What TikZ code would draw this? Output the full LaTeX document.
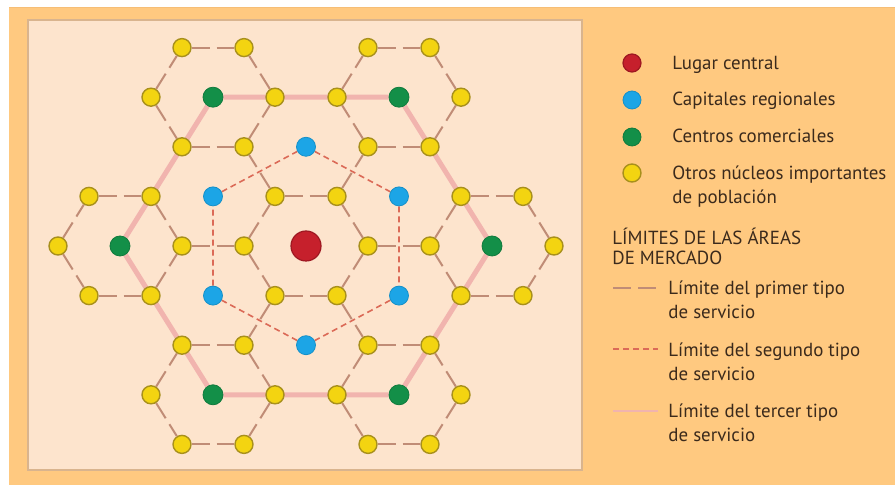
\documentclass[tikz,border=0pt]{standalone}
\usepackage{fontspec}
\setmainfont{PT Sans}
\usepackage{tikz}

\definecolor{orangebg}{HTML}{FFC980}
\definecolor{panelbg}{HTML}{FDE4CD}
\definecolor{panelrim}{HTML}{D9B48E}
\definecolor{townfill}{HTML}{F3D411}
\definecolor{townrim}{HTML}{A8901C}
\definecolor{capfill}{HTML}{1CA5E6}
\definecolor{caprim}{HTML}{1690C8}
\definecolor{shopfill}{HTML}{138F48}
\definecolor{centrefill}{HTML}{C6202C}
\definecolor{centrerim}{HTML}{9E1822}
\definecolor{firstline}{HTML}{C08C76}
\definecolor{secondline}{HTML}{DB6A57}
\definecolor{thirdline}{HTML}{F1B4AE}
\definecolor{legendtext}{HTML}{3B2A1C}

\pgfdeclarelayer{paper}
\pgfdeclarelayer{lines}
\pgfsetlayers{paper,lines,main}

\begin{document}
\begin{tikzpicture}[x=0.5bp,y=-0.5bp,
    town/.style={circle,fill=townfill,draw=townrim,line width=.7bp,minimum size=9bp,inner sep=0pt},
    capital/.style={circle,fill=capfill,draw=caprim,line width=.4bp,minimum size=9.5bp,inner sep=0pt},
    shop/.style={circle,fill=shopfill,draw=shopfill!85!black,line width=.4bp,minimum size=10bp,inner sep=0pt},
    centre/.style={circle,fill=centrefill,draw=centrerim,line width=.6bp,minimum size=15bp,inner sep=0pt},
    firsttype/.style={draw=firstline,line width=1bp,dash pattern=on 9bp off 3.5bp},
    secondtype/.style={draw=secondline,line width=.8bp,dash pattern=on 3bp off 2bp},
    thirdtype/.style={draw=thirdline,line width=2.5bp},
    legtext/.style={anchor=base west,inner sep=0pt,align=left,text=legendtext,
      font=\fontsize{9.5}{12.5}\selectfont}]

             \useasboundingbox (0,0) rectangle (895,485);
             \begin{pgfonlayer}{paper}
               \fill[white] (0,0) rectangle (895,485);
               \fill[orangebg] (9,7) rectangle (895,485);
               \draw[orangebg!85!brown,line width=.8bp] (9,7.5) -- (895,7.5);
               \filldraw[fill=panelbg,draw=panelrim,line width=.8bp] (28,20) rectangle (582,470);
             \end{pgfonlayer}

             % the market places
             \begin{scope}[shift={(306,246)},x=15.5bp,y=24.8bp]
               \node[centre] (lugar) at (0,0) {};
               \foreach \a/\b in {0/2,3/1,3/-1,0/-2,-3/-1,-3/1}
                 \node[capital] (c\a_\b) at (\a,\b) {};
               \foreach \a/\b in {-3/3,3/3,6/0,3/-3,-3/-3,-6/0}
                 \node[shop] (s\a_\b) at (\a,\b) {};
               \foreach \b in {4,2,-2,-4}
                 \foreach \a in {-4,-2,2,4}
                   \node[town] (t\a_\b) at (\a,\b) {};
               \foreach \b in {3,-3}
                 \foreach \a in {-5,-1,1,5}
                   \node[town] (t\a_\b) at (\a,\b) {};
               \foreach \b in {1,-1}
                 \foreach \a in {-7,-5,-1,1,5,7}
                   \node[town] (t\a_\b) at (\a,\b) {};
               \foreach \a in {-8,-4,-2,2,4,8}
                 \node[town] (t\a_0) at (\a,0) {};
             \end{scope}

             \begin{pgfonlayer}{lines}
               % first type: every side of the small hexagons
               \foreach \b in {4,2,0,-2,-4}
                 \draw[firsttype] (t-4_\b) -- (t-2_\b) (t2_\b) -- (t4_\b);
               \foreach \b in {1,-1}
                 \draw[firsttype] (t-7_\b) -- (t-5_\b) (t-1_\b) -- (t1_\b) (t5_\b) -- (t7_\b);
               \foreach \b in {3,-3}
                 \draw[firsttype] (t-1_\b) -- (t1_\b);
               \foreach \p/\q in {2_0/1_1,2_0/1_-1,5_1/4_2,5_1/4_0,1_1/2_2,5_-1/4_0,
                   5_-1/4_-2,1_-1/2_-2,2_2/1_3,2_-2/1_-3,5_3/4_4,5_3/4_2,1_3/2_4,
                   5_-3/4_-2,5_-3/4_-4,1_-3/2_-4,8_0/7_1,8_0/7_-1,
                   -2_0/-1_1,-2_0/-1_-1,-5_1/-4_2,-5_1/-4_0,-1_1/-2_2,-5_-1/-4_0,
                   -5_-1/-4_-2,-1_-1/-2_-2,-2_2/-1_3,-2_-2/-1_-3,-5_3/-4_4,-5_3/-4_2,
                   -1_3/-2_4,-5_-3/-4_-2,-5_-3/-4_-4,-1_-3/-2_-4,-8_0/-7_1,-8_0/-7_-1}
                 \draw[firsttype] (t\p) -- (t\q);
               % second type
               \draw[secondtype] (c0_2) -- (c3_1) -- (c3_-1) -- (c0_-2) -- (c-3_-1) -- (c-3_1) -- (c0_2);
               % third type
               \draw[thirdtype] (s-3_3) -- (s3_3) -- (s6_0) -- (s3_-3) -- (s-3_-3) -- (s-6_0) -- (s-3_3);
             \end{pgfonlayer}

             % legend
             \node[centre,minimum size=9bp] (kcentre) at (632,63) {};
             \node[capital,minimum size=9bp] (kcapital) at (632,100) {};
             \node[shop,minimum size=9bp] (kshop) at (632,137) {};
             \node[town] (ktown) at (632,173) {};
             \node[legtext] (lcentre) at (672,70) {Lugar central};
             \node[legtext] (lcapital) at (672,106) {Capitales regionales};
             \node[legtext] (lshop) at (672,143) {Centros comerciales};
             \node[legtext] (ltown) at (672,204) {Otros núcleos importantes\\de población};
             \node[legtext,font=\fontsize{9.5}{10.5}\selectfont] (ltitle) at (612,265) {LÍMITES DE LAS ÁREAS\\DE MERCADO};

             \coordinate (fa) at (613,288);
             \coordinate (fb) at (658,288);
             \draw[firsttype] (fa) -- (fb);
             \node[legtext] (lfirst) at (668,319) {Límite del primer tipo\\de servicio};
             \coordinate (sa) at (613,349);
             \coordinate (sb) at (658,349);
             \draw[secondtype] (sa) -- (sb);
             \node[legtext] (lsecond) at (668,381) {Límite del segundo tipo\\de servicio};
             \coordinate (ta) at (613,411);
             \coordinate (tb) at (658,411);
             \draw[thirdtype,line width=1.2bp] (ta) -- (tb);
             \node[legtext] (lthird) at (668,442) {Límite del tercer tipo\\de servicio};
\end{tikzpicture}
\end{document}
